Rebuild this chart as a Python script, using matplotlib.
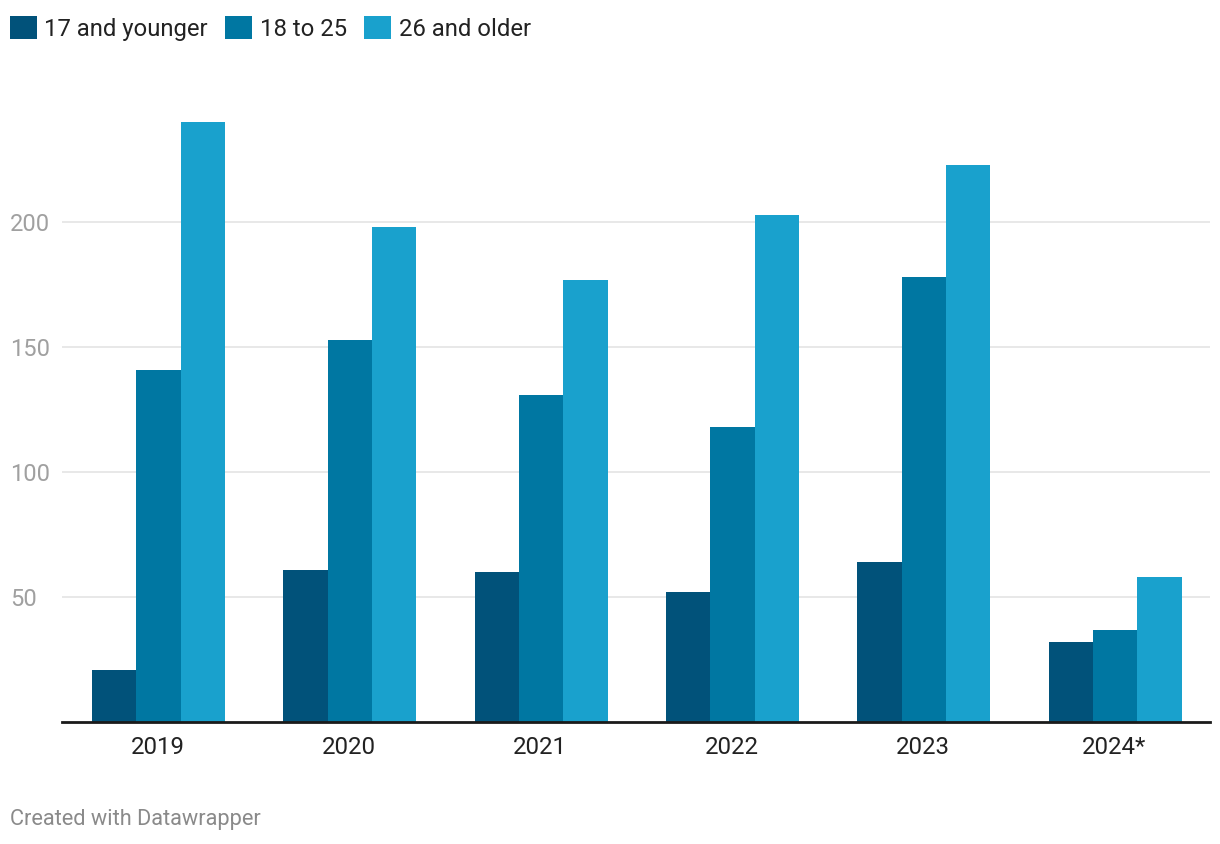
import numpy as np
import matplotlib.pyplot as plt
from matplotlib.patches import Patch

plt.rcParams['font.family'] = ['Roboto', 'DejaVu Sans']

# valores
anos = ["2019", "2020", "2021", "2022", "2023", "2024*"]
ate_17 = [21, 61, 60, 52, 64, 32]
de_18_a_25 = [141, 153, 131, 118, 178, 37]
acima_26 = [240, 198, 177, 203, 223, 58]

series = ["17 and younger", "18 to 25", "26 and older"]
cores = ["#01527a", "#0077a2", "#19a1cd"]

fig = plt.figure(figsize=(12.2, 8.44), dpi=100)
W, H = 1220, 844
ax = fig.add_axes([62 / W, (H - 722) / H, (1210 - 62) / W, (722 - 97) / H])

x = np.arange(len(anos))
larg = 0.232
for i, (vals, cor) in enumerate(zip([ate_17, de_18_a_25, acima_26], cores)):
    ax.bar(x + (i - 1) * larg + 0.004, vals, width=larg, color=cor, zorder=2, linewidth=0)

ax.set_xlim(-0.5, len(anos) - 0.5)
ax.set_ylim(0, 250)
ax.set_yticks([50, 100, 150, 200])
ax.yaxis.grid(True, color="#e4e4e4", linewidth=1.2, zorder=0)
ax.set_xticks(x)
ax.set_xticklabels(anos, fontsize=17.3, color="#222222")
ax.tick_params(axis="x", length=0, pad=10)
ax.tick_params(axis="y", length=0, labelsize=17, labelcolor="#a0a0a0", pad=0)
for lab in ax.get_yticklabels():
    lab.set_horizontalalignment("left")
    lab.set_x(-52 / (1210 - 62))
for s in ["top", "right", "left"]:
    ax.spines[s].set_visible(False)
ax.spines["bottom"].set_color("#1a1a1a")
ax.spines["bottom"].set_linewidth(2)
ax.spines["bottom"].set_zorder(3)

handles = [Patch(facecolor=c, edgecolor="none") for c in cores]
fig.legend(handles, series, loc="upper left", bbox_to_anchor=(0 / W, 1 - 6 / H),
           ncol=3, frameon=False, fontsize=17.2, handlelength=1.15, handleheight=1.15,
           handletextpad=0.3, columnspacing=0.72, borderaxespad=0, labelcolor="#222222")

fig.text(10 / W, 1 - 819 / H, "Created with Datawrapper", fontsize=15.7,
         color="#8a8a8a", va="center", ha="left")

fig.savefig("out.png", dpi=100)
